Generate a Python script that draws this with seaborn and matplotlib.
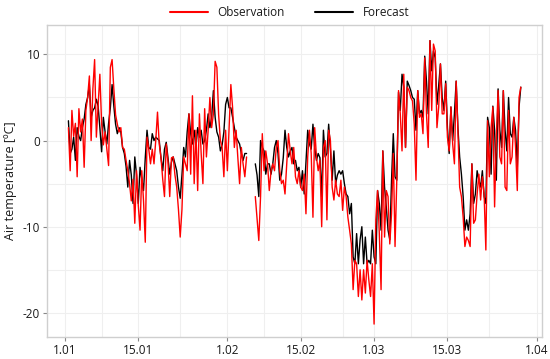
import numpy as np
import pandas as pd
import matplotlib
matplotlib.use("Agg")
import matplotlib.pyplot as plt
import matplotlib.dates as mdates
from matplotlib.lines import Line2D
import seaborn as sns

nan = np.nan

# 8-hourly values, first at 1 Jan 16:00, one row per day afterwards
observation = [
    1.5,
    -3.5, 3.5, 0.5,
    2.0, -4.2, 3.7,
    1.0, 2.5, -3.1,
    3.5, 5.0, 7.5,
    0.0, 6.0, 9.4,
    0.4, 4.0, 7.7,
    2.0, -0.5, 1.0,
    -1.0, -2.9, 8.5,
    9.4, 6.0, 3.0,
    1.9, 1.0, 1.5,
    -0.8, -1.0, -2.3,
    -3.5, -5.0, -7.0,
    -4.5, -9.6, -3.5,
    -7.5, -10.4, -3.5,
    -7.0, -11.8, 0.4,
    -1.0, -2.7, -1.0,
    -2.7, 0.0, 3.3,
    -0.4, -2.0, -4.5,
    -6.5, -0.4, -2.5,
    -6.5, -2.0, -1.9,
    -4.0, -5.4, -8.0,
    -11.2, -8.0, -1.9,
    -2.7, -3.5, 3.1,
    -3.9, 5.2, -5.0,
    1.2, -5.8, 3.1,
    -1.5, -5.0, 3.7,
    -1.9, 1.2, 5.0,
    1.5, 3.1, 9.2,
    8.5, 3.0, 0.0,
    -0.8, -4.2, 1.2,
    -3.5, 1.5, 6.5,
    3.8, -0.8, 1.2,
    -2.0, -5.0, -0.8,
    -2.7, -4.2, -1.9,
    nan, nan, nan,
    nan, -6.5, -9.0,
    -11.6, -6.5, 0.8,
    -3.5, -1.2, -2.7,
    -5.8, -3.5, -2.7,
    -3.5, -0.8, 0.0,
    -3.5, -5.0, -4.6,
    -6.2, -2.7, 0.8,
    -1.2, -2.7, -0.8,
    -4.2, -5.0, -3.5,
    -5.4, -5.8, -3.9,
    -8.5, -1.9, 1.2,
    -1.5, -8.9, 1.5,
    -1.9, -3.5, -2.3,
    -10.0, -0.8, 0.0,
    -9.2, 1.2, 0.0,
    -5.4, -6.9, -4.6,
    -6.2, -6.5, -4.6,
    -8.1, -5.4, -6.5,
    -8.9, -10.4, -12.0,
    -17.3, -13.9, -14.3,
    -18.1, -15.0, -18.5,
    -15.0, -17.7, -13.9,
    -16.2, -18.1, -14.3,
    -21.3, -9.2, -5.8,
    -10.8, -17.3, -1.2,
    -11.2, -5.8, -6.5,
    -12.0, -8.5, -1.5,
    -12.3, -4.6, 5.8,
    3.1, -1.2, 7.7,
    -0.8, 6.2, 5.8,
    5.0, 4.6, 1.9,
    -4.6, 5.8, 2.7,
    3.1, 0.8, 9.6,
    3.1, -0.8, 11.6,
    3.5, 11.2, 10.4,
    1.5, 3.9, 8.9,
    3.1, 3.1, 6.6,
    0.4, -1.2, 3.9,
    -0.4, -2.7, 6.9,
    1.2, -5.4, -6.5,
    -8.9, -12.3, -11.2,
    -11.6, -12.3, -2.7,
    -9.6, -9.2, -6.2,
    -3.9, -6.9, -4.2,
    -6.2, -12.7, 2.3,
    -4.2, 1.5, 3.9,
    -7.7, 0.4, 5.8,
    -1.9, -2.7, 5.8,
    -5.4, -5.8, 3.5,
    -2.7, -1.9, 2.7,
    -0.8, -5.8, 5.0,
    6.2,
]

forecast = [
    2.3,
    -1.5, -1.0, 0.4,
    -2.3, 1.5, 0.5,
    0.0, 1.5, 2.5,
    4.2, 5.0, 6.5,
    2.7, 3.5, 3.8,
    4.8, 4.0, 1.5,
    -1.3, 2.7, 1.0,
    -0.4, 2.0, 3.8,
    6.5, 4.0, 1.9,
    0.8, 1.5, 1.0,
    -0.8, -1.5, -3.0,
    -5.4, -2.3, -4.0,
    -7.3, -1.9, -4.0,
    -7.3, -3.1, -4.5,
    -5.8, -2.0, 1.2,
    -0.8, -1.0, 0.8,
    0.0, 0.4, 0.2,
    0.0, -2.0, -3.5,
    -1.0, -0.2, -2.0,
    -3.9, -2.5, -1.9,
    -2.7, -3.5, -5.4,
    -6.7, -4.0, -0.8,
    -1.9, 1.0, 3.1,
    0.8, -0.4, 1.2,
    -0.8, 1.5, 0.4,
    1.2, -0.4, 0.0,
    1.2, 3.1, 1.5,
    2.7, 5.8, 2.7,
    1.0, 0.4, -1.2,
    -0.5, 1.0, 4.2,
    5.0, 3.8, 3.8,
    2.7, 1.5, 0.4,
    0.0, -0.4, -1.5,
    -2.3, -1.5, -1.5,
    nan, nan, nan,
    nan, -2.7, -4.0,
    -6.5, 0.0, -0.8,
    -1.2, -3.9, -2.7,
    -2.7, -3.9, -2.7,
    -0.8, 0.0, -1.5,
    -4.6, -3.9, -2.0,
    1.2, -0.8, -1.9,
    -1.2, -0.8, -2.7,
    -2.3, -3.5, -3.1,
    -5.4, -3.5, -6.2,
    -2.5, 1.2, -0.4,
    -1.0, 1.9, -0.8,
    -2.3, -1.5, -2.0,
    -6.5, 1.2, -1.9,
    -1.5, 1.9, -1.0,
    -4.6, -1.2, -5.0,
    -4.0, -3.5, -3.9,
    -3.5, -5.0, -6.2,
    -6.5, -8.5, -7.3,
    -13.5, -14.3, -10.8,
    -14.3, -11.5, -10.0,
    -14.3, -11.2, -14.3,
    -13.9, -14.3, -10.4,
    -13.5, -14.3, -5.8,
    -7.3, -10.4, -1.2,
    -5.4, -7.7, -10.4,
    -11.5, -4.6, 0.8,
    -4.2, -4.6, 5.6,
    3.5, 7.7, 6.2,
    -0.8, 6.9, 6.4,
    5.8, 5.0, 4.8,
    1.2, 5.8, 3.1,
    3.5, 2.7, 9.8,
    6.9, 3.1, 11.6,
    8.1, 10.4, 9.6,
    4.2, 6.4, 8.9,
    5.0, 3.5, 6.9,
    1.5, -1.5, 3.9,
    0.0, 3.1, 6.9,
    1.5, -1.9, -3.9,
    -6.5, -10.4, -9.2,
    -10.4, -8.5, -2.7,
    -7.3, -6.2, -3.5,
    -4.6, -5.4, -3.5,
    -6.5, -7.3, 2.7,
    1.5, -3.9, 4.0,
    1.2, -4.6, 6.0,
    1.2, -0.8, 5.8,
    1.2, -1.2, 5.0,
    0.8, 0.4, 2.7,
    1.2, -3.1, 3.9,
    6.2,
]

times = pd.date_range("2019-01-01 16:00", periods=len(observation), freq="8h")

df = pd.DataFrame({"time": times, "Observation": observation, "Forecast": forecast})
df["seg"] = df["Observation"].isna().cumsum()
df = df.dropna()

sns.set_theme(style="whitegrid")
plt.rcParams["font.family"] = ["Open Sans", "DejaVu Sans"]
plt.rcParams["axes.unicode_minus"] = False

fig = plt.figure(figsize=(5.5, 3.59), dpi=100)
ax = fig.add_axes([0.0855, 0.0613, 0.8995, 0.8687])

sns.lineplot(data=df, x="time", y="Forecast", units="seg", estimator=None,
             color="black", linewidth=1.0, ax=ax)
sns.lineplot(data=df, x="time", y="Observation", units="seg", estimator=None,
             color="#ff0000", linewidth=1.0, ax=ax)

ax.set_xlim(pd.Timestamp("2018-12-28 14:00"), pd.Timestamp("2019-04-02 00:00"))
ax.set_ylim(-22.8, 13.4)

ax.xaxis.set_major_locator(mdates.DayLocator(bymonthday=[1, 15]))
ax.xaxis.set_major_formatter(mdates.DateFormatter("%-d.%m"))
ax.xaxis.set_minor_locator(mdates.DayLocator(bymonthday=[8, 23]))
ax.set_yticks([-20, -10, 0, 10])
ax.set_yticks([-15, -5, 5], minor=True)

ax.grid(True, which="both", color="#efefef", linewidth=0.8)
for s in ax.spines.values():
    s.set_color("#cfcfcf")
    s.set_linewidth(1.0)
ax.tick_params(axis="both", which="major", direction="out", length=3, width=0.8,
               color="#888888", labelsize=8.5, labelcolor="#1a1a1a", pad=2,
               bottom=True, left=True)
ax.tick_params(axis="both", which="minor", length=0)

ax.set_xlabel("")
ax.set_ylabel("Air temperature [ºC]", fontsize=9, color="#1a1a1a", labelpad=4)

handles = [Line2D([], [], color="#ff0000", linewidth=1.5),
           Line2D([], [], color="black", linewidth=1.5)]
ax.legend(handles, ["Observation", "Forecast"], loc="lower center",
          bbox_to_anchor=(0.49, 1.0), ncol=2, frameon=False, fontsize=8.5,
          handlelength=3.2, columnspacing=2.6, borderaxespad=0.1,
          labelcolor="#1a1a1a")

fig.savefig("out.png", dpi=100)
